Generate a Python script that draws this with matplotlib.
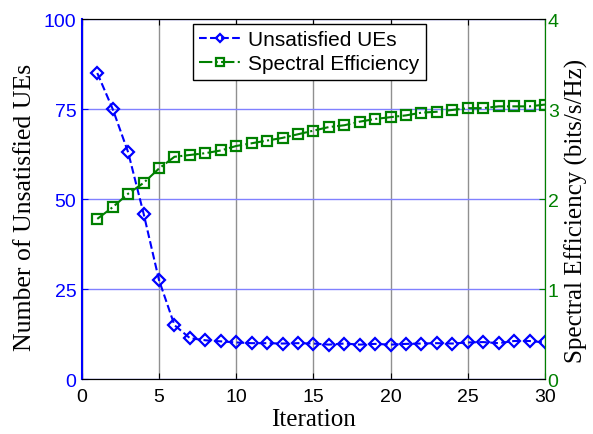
import matplotlib
matplotlib.use('Agg')
import matplotlib.pyplot as plt

iteration = list(range(1, 31))
unsatisfied = [85, 75, 63, 46, 27.5, 15, 11.4, 10.8, 10.5, 10.2,
               10.0, 10.0, 9.9, 10.0, 9.9, 9.6, 9.9, 9.6, 9.8, 9.6,
               9.8, 9.9, 10.0, 9.9, 10.2, 10.3, 10.0, 10.6, 10.6, 10.2]
spectral = [1.78, 1.91, 2.06, 2.18, 2.34, 2.47, 2.49, 2.51, 2.54, 2.59,
            2.62, 2.65, 2.68, 2.72, 2.76, 2.80, 2.82, 2.86, 2.89, 2.91,
            2.93, 2.96, 2.97, 2.99, 3.01, 3.01, 3.03, 3.03, 3.03, 3.05]

blue = '#0000ff'
green = '#008000'
sans = 'Liberation Sans'
serif = 'Liberation Serif'

fig = plt.figure(figsize=(5.93, 4.35), dpi=100)
ax1 = fig.add_axes([0.138, 0.126, 0.781, 0.828])
ax2 = ax1.twinx()

l1, = ax1.plot(iteration, unsatisfied, color=blue, linestyle='--', lw=1.5,
               marker='D', markersize=6, markerfacecolor='none',
               markeredgewidth=1.6, label='Unsatisfied UEs')
l2, = ax2.plot(iteration, spectral, color=green, linestyle='-.', lw=1.5,
               marker='s', markersize=7, markerfacecolor='none',
               markeredgewidth=1.6, label='Spectral Efficiency')

ax1.set_xlim(0, 30)
ax1.set_ylim(0, 100)
ax2.set_ylim(0, 4)
ax1.set_xticks([0, 5, 10, 15, 20, 25, 30])
ax1.set_yticks([0, 25, 50, 75, 100])
ax2.set_yticks([0, 1, 2, 3, 4])

ax1.xaxis.grid(True, color='#909090', lw=1)
ax1.yaxis.grid(True, color='#8080ff', lw=1)
ax1.set_axisbelow(True)

ax1.tick_params(axis='x', labelsize=14, direction='in', length=4, pad=6,
                colors='black', top=True)
ax1.tick_params(axis='y', labelsize=14, direction='in', length=4, pad=4, colors=blue)
ax2.tick_params(axis='y', labelsize=14, direction='in', length=4, pad=2, colors=green)
for lab in ax1.get_xticklabels() + ax1.get_yticklabels() + ax2.get_yticklabels():
    lab.set_fontfamily(sans)

ax2.spines['left'].set_color(blue)
ax2.spines['left'].set_linewidth(1.5)
ax2.spines['right'].set_color(green)
ax1.spines['right'].set_color(green)

ax1.set_xlabel('Iteration', fontfamily=serif, fontsize=18)
ax1.set_ylabel('Number of Unsatisfied UEs', fontfamily=serif, fontsize=18.5)
ax2.set_ylabel('Spectral Efficiency (bits/s/Hz)', fontfamily=serif, fontsize=18)
ax1.xaxis.set_label_coords(0.5, -0.08)
ax1.yaxis.set_label_coords(-0.10, 0.48)
ax2.yaxis.set_label_coords(1.042, 0.47)

leg = ax2.legend(handles=[l1, l2], loc='upper left',
                 bbox_to_anchor=(193 / 593, 1 - 25 / 435),
                 bbox_transform=fig.transFigure, borderaxespad=0,
                 prop={'family': sans, 'size': 15}, fancybox=False,
                 edgecolor='black', framealpha=1, handlelength=2.0,
                 handletextpad=0.35, borderpad=0.3, labelspacing=0.25,
                 markerscale=0.75)
leg.get_frame().set_linewidth(1)

fig.savefig('out.png', dpi=100)
